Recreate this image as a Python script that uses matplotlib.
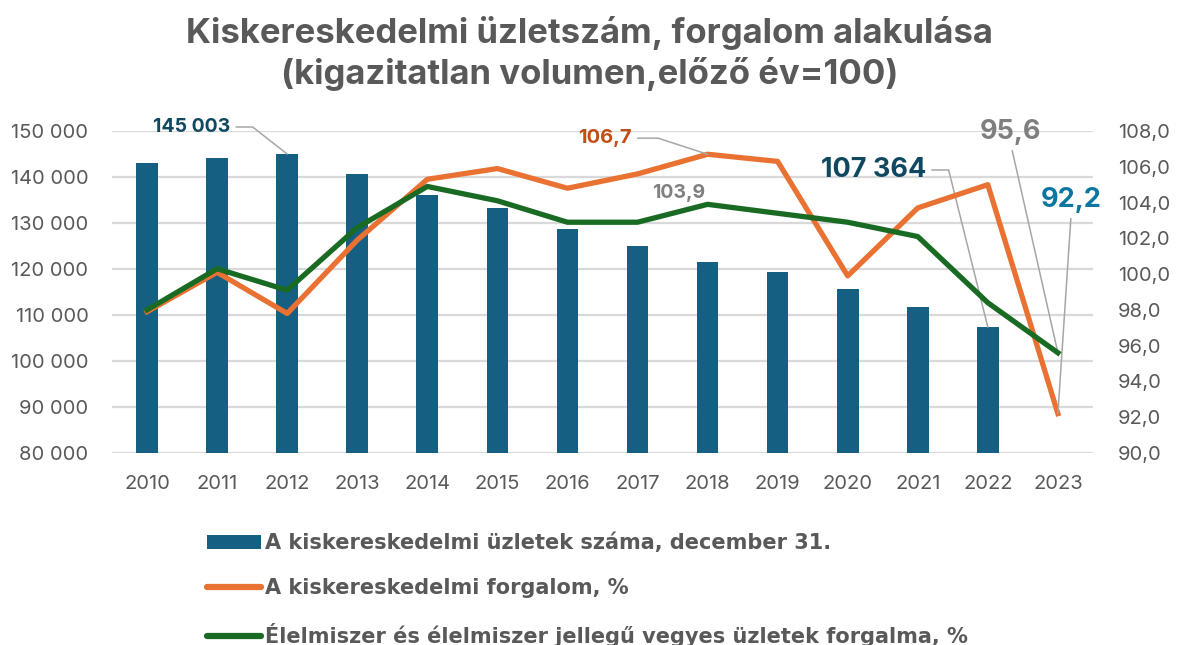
import numpy as np
import matplotlib
matplotlib.use("Agg")
import matplotlib.pyplot as plt
from matplotlib.patches import Patch
from matplotlib.lines import Line2D
from matplotlib.ticker import FuncFormatter

# ------------------ DATA ------------------

years = ["2010", "2011", "2012", "2013", "2014", "2015", "2016",
         "2017", "2018", "2019", "2020", "2021", "2022", "2023"]

# number of shops on 31 December (2023 not yet published)
shops = [143000, 144100, 145003, 140600, 136100, 133300, 128700,
         125000, 121500, 119400, 115700, 111700, 107364, np.nan]

# retail turnover volume, previous year = 100
retail = [97.9, 100.1, 97.8, 101.9, 105.3, 105.9, 104.8,
          105.6, 106.7, 106.3, 99.9, 103.7, 105.0, 92.2]

# food and mixed food shops turnover volume
food = [98.0, 100.3, 99.1, 102.6, 104.9, 104.1, 102.9,
        102.9, 103.9, 103.4, 102.9, 102.1, 98.4, 95.6]

title = "Kiskereskedelmi üzletszám, forgalom alakulása\n(kigazitatlan volumen,előző év=100)"
labels = ["A kiskereskedelmi üzletek száma, december 31.",
          "A kiskereskedelmi forgalom, %",
          "Élelmiszer és élelmiszer jellegű vegyes üzletek forgalma, %"]

# ------------------ STYLE ------------------

BAR_C    = "#156082"
ORANGE_C = "#E97132"
GREEN_C  = "#196B24"
TEXT_C   = "#595959"
GRID_C   = "#D9D9D9"
LEADER_C = "#A6A6A6"

plt.rcParams["font.family"] = ["Inter", "DejaVu Sans"]

fig = plt.figure(figsize=(11.79, 6.45), dpi=100)
ax = fig.add_axes([0.095, 0.2977, 0.832, 0.4992])
ax2 = ax.twinx()

x = np.arange(len(years))

ax.bar(x, shops, width=0.31, color=BAR_C, zorder=2)
ax.set_ylim(80000, 150000)
ax.set_xlim(-0.5, len(years) - 0.5)
ax.set_yticks(np.arange(80000, 150001, 10000))
ax.yaxis.set_major_formatter(FuncFormatter(lambda v, p: f"{int(v):,}".replace(",", " ")))
ax.grid(axis="y", color=GRID_C, lw=1.6, zorder=0)
ax.set_axisbelow(True)
ax.set_xticks(x)
ax.set_xticklabels(years)

ax2.plot(x, retail, color=ORANGE_C, lw=3.8, solid_joinstyle="round", zorder=3)
ax2.plot(x, food, color=GREEN_C, lw=3.8, solid_joinstyle="round", zorder=4)
ax2.set_ylim(90, 108)
ax2.set_yticks(np.arange(90, 108.1, 2))
ax2.yaxis.set_major_formatter(FuncFormatter(lambda v, p: f"{v:.1f}".replace(".", ",")))

for a in (ax, ax2):
    for s in a.spines.values():
        s.set_visible(False)
    a.tick_params(length=0, labelsize=14.5, labelcolor=TEXT_C)
ax.tick_params(axis="y", pad=17)
ax.tick_params(axis="x", pad=16)
ax2.tick_params(axis="y", pad=18)

# ------------------ LABELS ------------------

lead = dict(arrowstyle="-", color=LEADER_C, lw=1.1, shrinkA=2, shrinkB=0)

ax.annotate("145 003", xy=(2, shops[2]), xytext=(0.64, 150870),
            ha="center", va="center", fontsize=14, fontweight="bold", color="#104862",
            annotation_clip=False,
            arrowprops=dict(lead, relpos=(1, 0.5), connectionstyle="angle,angleA=0,angleB=142,rad=0"))

ax.annotate("107 364", xy=(12, shops[12]), xytext=(10.37, 141520),
            ha="center", va="center", fontsize=19.5, fontweight="bold", color="#104862",
            arrowprops=dict(lead, relpos=(1, 0.5), connectionstyle="angle,angleA=0,angleB=104,rad=0"))

ax2.annotate("106,7", xy=(8, retail[8]), xytext=(6.54, 107.6),
             ha="center", va="center", fontsize=14.5, fontweight="bold", color="#C04F15",
             arrowprops=dict(lead, relpos=(1, 0.5), connectionstyle="angle,angleA=0,angleB=162,rad=0"))

ax2.text(7.58, 104.53, "103,9", ha="center", va="center",
         fontsize=14, fontweight="bold", color="#808080")

ax2.annotate("95,6", xy=(13, food[13]), xytext=(12.33, 107.94),
             ha="center", va="center", fontsize=19.5, fontweight="bold", color="#7F7F7F",
             annotation_clip=False,
             arrowprops=dict(lead, relpos=(0.5, 0)))

ax2.annotate("92,2", xy=(13, retail[13]), xytext=(13.19, 104.14),
             ha="center", va="center", fontsize=19.5, fontweight="bold", color="#0B76A0",
             arrowprops=dict(lead, relpos=(0.5, 0)))

fig.text(0.5, 0.917, title, ha="center", va="center", fontsize=25,
         fontweight="bold", color=TEXT_C, linespacing=1.25)

# ------------------ LEGEND ------------------

handles = [Patch(facecolor=BAR_C, edgecolor="none"),
           Line2D([0], [0], color=ORANGE_C, lw=4.5, solid_capstyle="round"),
           Line2D([0], [0], color=GREEN_C, lw=4.5, solid_capstyle="round")]
fig.legend(handles, labels, loc="upper left", bbox_to_anchor=(0.167, 0.19),
           frameon=False, borderpad=0, handlelength=2.6, handleheight=0.7,
           handletextpad=0.15, labelspacing=1.2,
           prop={"family": ["DejaVu Sans"], "weight": "bold", "size": 15},
           labelcolor=TEXT_C)

fig.savefig("out.png", dpi=100)
